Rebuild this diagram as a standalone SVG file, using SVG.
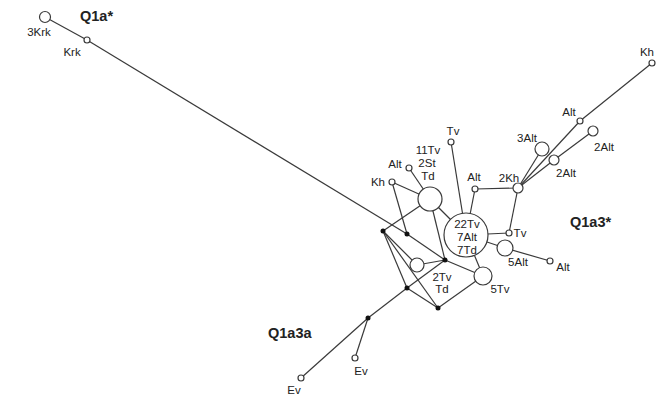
<svg xmlns="http://www.w3.org/2000/svg" width="659" height="399" viewBox="0 0 659 399">
<style>
.e{stroke:#3a3a3a;stroke-width:1.2;fill:none}
.n{fill:#fff;stroke:#3a3a3a;stroke-width:1.2}
.d{fill:#111}
.t{font-family:"Liberation Sans",Arial,sans-serif;font-size:11.5px;fill:#222;text-anchor:middle}
.q{font-family:"Liberation Sans",Arial,sans-serif;font-size:14.5px;font-weight:bold;fill:#222}
</style>
<rect width="659" height="399" fill="#fff"/>
<g id="connectors">
<line class="e" x1="45" y1="17" x2="87" y2="40"/>
<line class="e" x1="87" y1="40" x2="407" y2="234"/>
<line class="e" x1="407" y1="234" x2="445" y2="260"/>
<line class="e" x1="392" y1="182" x2="407" y2="234"/>
<line class="e" x1="392" y1="182" x2="430" y2="199"/>
<line class="e" x1="409" y1="168" x2="430" y2="199"/>
<line class="e" x1="430" y1="199" x2="383" y2="231"/>
<line class="e" x1="430" y1="199" x2="466" y2="235"/>
<line class="e" x1="430" y1="199" x2="445" y2="260"/>
<line class="e" x1="451" y1="142" x2="466" y2="235"/>
<line class="e" x1="475" y1="189" x2="466" y2="235"/>
<line class="e" x1="475" y1="189" x2="518" y2="188"/>
<line class="e" x1="518" y1="188" x2="509" y2="233"/>
<line class="e" x1="509" y1="233" x2="466" y2="235"/>
<line class="e" x1="466" y1="235" x2="505" y2="248"/>
<line class="e" x1="505" y1="248" x2="550" y2="261"/>
<line class="e" x1="466" y1="235" x2="483" y2="276"/>
<line class="e" x1="445" y1="260" x2="483" y2="276"/>
<line class="e" x1="438" y1="308" x2="483" y2="276"/>
<line class="e" x1="407" y1="288" x2="438" y2="308"/>
<line class="e" x1="383" y1="231" x2="407" y2="288"/>
<line class="e" x1="383" y1="231" x2="438" y2="308"/>
<line class="e" x1="383" y1="231" x2="417" y2="265"/>
<line class="e" x1="417" y1="265" x2="445" y2="260"/>
<line class="e" x1="407" y1="288" x2="445" y2="260"/>
<line class="e" x1="368" y1="318" x2="407" y2="288"/>
<line class="e" x1="368" y1="318" x2="355" y2="358"/>
<line class="e" x1="368" y1="318" x2="301" y2="378"/>
<line class="e" x1="518" y1="188" x2="542" y2="149"/>
<line class="e" x1="518" y1="188" x2="554" y2="160"/>
<line class="e" x1="554" y1="160" x2="593" y2="131"/>
<line class="e" x1="518" y1="188" x2="580" y2="121"/>
<line class="e" x1="580" y1="121" x2="652" y2="63"/>
</g>
<g id="n-3Krk"><circle class="n" cx="45" cy="17" r="5.5"/><text class="t" x="39" y="36">3Krk</text></g>
<g id="n-Krk"><circle class="n" cx="87" cy="40" r="3"/><text class="t" x="72" y="56">Krk</text></g>
<g id="n-Kh1"><circle class="n" cx="392" cy="182" r="3"/><text class="t" x="378" y="186">Kh</text></g>
<g id="n-Alt1"><circle class="n" cx="409" cy="168" r="3"/><text class="t" x="395" y="168">Alt</text></g>
<g id="n-11Tv"><circle class="n" cx="430" cy="199" r="12"/><text class="t" x="428" y="154">11Tv</text><text class="t" x="427" y="167">2St</text><text class="t" x="428" y="180">Td</text></g>
<g id="n-Tv1"><circle class="n" cx="451" cy="142" r="3"/><text class="t" x="453" y="135">Tv</text></g>
<g id="n-Alt2"><circle class="n" cx="475" cy="189" r="3"/><text class="t" x="474" y="181">Alt</text></g>
<g id="n-22Tv"><circle class="n" cx="466" cy="235" r="22"/><text class="t" x="467" y="228">22Tv</text><text class="t" x="467" y="241">7Alt</text><text class="t" x="467" y="254">7Td</text></g>
<g id="n-2Kh"><circle class="n" cx="518" cy="188" r="5"/><text class="t" x="509" y="182">2Kh</text></g>
<g id="n-Tv2"><circle class="n" cx="509" cy="233" r="3"/><text class="t" x="520" y="237">Tv</text></g>
<g id="n-5Alt"><circle class="n" cx="505" cy="248" r="8"/><text class="t" x="518" y="266">5Alt</text></g>
<g id="n-Alt3"><circle class="n" cx="550" cy="261" r="3"/><text class="t" x="563" y="271">Alt</text></g>
<g id="n-3Alt"><circle class="n" cx="542" cy="149" r="7"/><text class="t" x="527" y="142">3Alt</text></g>
<g id="n-2Alt1"><circle class="n" cx="554" cy="160" r="5"/><text class="t" x="566" y="177">2Alt</text></g>
<g id="n-2Alt2"><circle class="n" cx="593" cy="131" r="5"/><text class="t" x="604" y="151">2Alt</text></g>
<g id="n-Alt4"><circle class="n" cx="580" cy="121" r="3"/><text class="t" x="569" y="116">Alt</text></g>
<g id="n-Kh2"><circle class="n" cx="652" cy="63" r="3"/><text class="t" x="647" y="56">Kh</text></g>
<g id="n-2Tv"><circle class="n" cx="417" cy="265" r="7"/><text class="t" x="442" y="281">2Tv</text><text class="t" x="442" y="293">Td</text></g>
<g id="n-5Tv"><circle class="n" cx="483" cy="276" r="9"/><text class="t" x="500" y="293">5Tv</text></g>
<g id="n-Ev1"><circle class="n" cx="355" cy="358" r="3"/><text class="t" x="361" y="375">Ev</text></g>
<g id="n-Ev2"><circle class="n" cx="301" cy="378" r="3"/><text class="t" x="294" y="394">Ev</text></g>
<g id="mv-A"><circle class="d" cx="407" cy="234" r="2.5"/></g>
<g id="mv-B"><circle class="d" cx="445" cy="260" r="2.5"/></g>
<g id="mv-C"><circle class="d" cx="383" cy="231" r="2.5"/></g>
<g id="mv-D"><circle class="d" cx="407" cy="288" r="2.5"/></g>
<g id="mv-E"><circle class="d" cx="438" cy="308" r="2.5"/></g>
<g id="mv-F"><circle class="d" cx="368" cy="318" r="2.5"/></g>
<g id="labels">
<text class="q" x="80" y="21">Q1a*</text>
<text class="q" x="570" y="227">Q1a3*</text>
<text class="q" x="268" y="338">Q1a3a</text>
</g>
</svg>
